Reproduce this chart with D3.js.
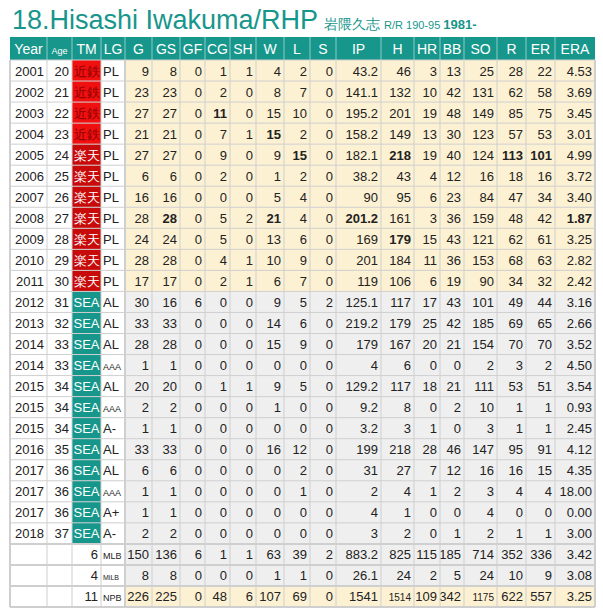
<!DOCTYPE html>
<html>
<head>
<meta charset="utf-8">
<script src="https://cdnjs.cloudflare.com/ajax/libs/d3/7.8.5/d3.min.js"></script>
<style>
body{margin:0;background:#fff;font-family:"Liberation Sans",Arial,sans-serif;}
</style>
</head>
<body>
<svg id="c" width="603" height="612"></svg>
<script>
// column headers
var columns = ["Year","Age","TM","LG","G","GS","GF","CG","SH","W","L","S","IP","H","HR","BB","SO","R","ER","ERA"];
var colEdges = [10,47,72,101,125,152,180,205,230,256,284,310,336,381,414,440,464,497,526,555,595];

// season rows
var years  = ["2001","2002","2003","2004","2005","2006","2007","2008","2009","2010","2011","2012","2013","2014","2014","2015","2015","2015","2016","2017","2017","2017","2018"];
var ages   = [20,21,22,23,24,25,26,27,28,29,30,31,32,33,33,34,34,34,35,36,36,36,37];
var teams  = ["近鉄","近鉄","近鉄","近鉄","楽天","楽天","楽天","楽天","楽天","楽天","楽天","SEA","SEA","SEA","SEA","SEA","SEA","SEA","SEA","SEA","SEA","SEA","SEA"];
var leagues= ["PL","PL","PL","PL","PL","PL","PL","PL","PL","PL","PL","AL","AL","AL","AAA","AL","AAA","A-","AL","AL","AAA","A+","A-"];
var stats = [
 ["9","8","0","1","1","4","2","0","43.2","46","3","13","25","28","22","4.53"],
 ["23","23","0","2","0","8","7","0","141.1","132","10","42","131","62","58","3.69"],
 ["27","27","0","11","0","15","10","0","195.2","201","19","48","149","85","75","3.45"],
 ["21","21","0","7","1","15","2","0","158.2","149","13","30","123","57","53","3.01"],
 ["27","27","0","9","0","9","15","0","182.1","218","19","40","124","113","101","4.99"],
 ["6","6","0","2","0","1","2","0","38.2","43","4","12","16","18","16","3.72"],
 ["16","16","0","0","0","5","4","0","90","95","6","23","84","47","34","3.40"],
 ["28","28","0","5","2","21","4","0","201.2","161","3","36","159","48","42","1.87"],
 ["24","24","0","5","0","13","6","0","169","179","15","43","121","62","61","3.25"],
 ["28","28","0","4","1","10","9","0","201","184","11","36","153","68","63","2.82"],
 ["17","17","0","2","1","6","7","0","119","106","6","19","90","34","32","2.42"],
 ["30","16","6","0","0","9","5","2","125.1","117","17","43","101","49","44","3.16"],
 ["33","33","0","0","0","14","6","0","219.2","179","25","42","185","69","65","2.66"],
 ["28","28","0","0","0","15","9","0","179","167","20","21","154","70","70","3.52"],
 ["1","1","0","0","0","0","0","0","4","6","0","0","2","3","2","4.50"],
 ["20","20","0","1","1","9","5","0","129.2","117","18","21","111","53","51","3.54"],
 ["2","2","0","0","0","1","0","0","9.2","8","0","2","10","1","1","0.93"],
 ["1","1","0","0","0","0","0","0","3.2","3","1","0","3","1","1","2.45"],
 ["33","33","0","0","0","16","12","0","199","218","28","46","147","95","91","4.12"],
 ["6","6","0","0","0","0","2","0","31","27","7","12","16","16","15","4.35"],
 ["1","1","0","0","0","0","1","0","2","4","1","2","3","4","4","18.00"],
 ["1","1","0","0","0","0","0","0","4","1","0","0","4","0","0","0.00"],
 ["2","2","0","0","0","0","0","0","3","2","0","1","2","1","1","3.00"]
];
// bold (league-leading) cells: [row, column name]
var boldCells = [[2,"CG"],[3,"W"],[4,"L"],[4,"H"],[4,"R"],[4,"ER"],[7,"GS"],[7,"W"],[7,"IP"],[7,"ERA"],[8,"H"]];

// career totals
var totalSeasons = [6,4,11];
var totalLeagues = ["MLB","MiLB","NPB"];
var totalStats = [
 ["150","136","6","1","1","63","39","2","883.2","825","115","185","714","352","336","3.42"],
 ["8","8","0","0","0","1","1","0","26.1","24","2","5","24","10","9","3.08"],
 ["226","225","0","48","6","107","69","0","1541","1514","109","342","1175","622","557","3.25"]
];

var svg = d3.select("#c");
var teal = "#17968c", cream = "#fdf1d3", grey = "#efefef", line = "#cfcfcf";
var teamFill = {"近鉄": "#f01010", "楽天": "#c80a0a", "SEA": teal};
var teamText = {"近鉄": "#8a0000", "楽天": "#fff", "SEA": "#fff"};
var nRows = years.length + totalStats.length;
var y = d3.scaleBand().domain(d3.range(nRows)).range([60, 607]);
var headTop = 37;

// title
var title = svg.append("text").attr("x", 12).attr("y", 29).attr("fill", teal);
title.append("tspan").attr("font-size", 27).text("18.Hisashi Iwakuma/RHP");
title.append("tspan").attr("font-size", 14).attr("dx", 6).text("岩隈久志 ");
title.append("tspan").attr("font-size", 11).text("R/R 190-95 ");
title.append("tspan").attr("font-size", 13).attr("font-weight", "bold").text("1981-");

// header
svg.append("rect").attr("x", colEdges[0]).attr("y", headTop).attr("width", colEdges[20]-colEdges[0]).attr("height", 23).attr("fill", teal);
columns.forEach(function(c, i) {
  svg.append("text").attr("x", (colEdges[i]+colEdges[i+1])/2).attr("y", headTop+17)
    .attr("text-anchor", "middle").attr("fill", "#fff")
    .attr("font-size", c === "Age" ? 9 : 14).text(c);
  if (i > 0) svg.append("line").attr("x1", colEdges[i]).attr("x2", colEdges[i]).attr("y1", headTop).attr("y2", 60).attr("stroke", "#fff").attr("stroke-opacity", 0.5);
});

function cellRight(i){ return colEdges[i+1]-3; }

function drawRow(r, cells, bg, tm, opts) {
  var top = y(r), h = y.bandwidth();
  svg.append("rect").attr("x", colEdges[4]).attr("y", top).attr("width", colEdges[20]-colEdges[4]).attr("height", h).attr("fill", bg);
  if (tm) svg.append("rect").attr("x", colEdges[2]).attr("y", top).attr("width", colEdges[3]-colEdges[2]).attr("height", h).attr("fill", teamFill[tm]);
  cells.forEach(function(v, i) {
    if (v === null) return;
    var t = svg.append("text").attr("y", top+h/2+5).attr("font-size", 13).attr("fill", "#222").text(v);
    if (i === 2 && !opts.total) {
      t.attr("x", (colEdges[2]+colEdges[3])/2).attr("text-anchor", "middle").attr("fill", teamText[tm]).attr("font-size", 13);
    } else if (i === 3) {
      t.attr("x", colEdges[3]+2);
      if (v.length > 2) t.attr("font-size", v === "MiLB" ? 7 : 9);
    } else {
      t.attr("x", cellRight(i)).attr("text-anchor", "end");
      if (v.length >= 4 && i >= 4 && i !== 12 && i !== 19) t.attr("font-size", 10);
    }
    if (opts.bold && opts.bold.indexOf(i) >= 0) t.attr("font-weight", "bold");
  });
}

years.forEach(function(yr, r) {
  var npb = teams[r] !== "SEA";
  var bold = boldCells.filter(function(b){ return b[0] === r; }).map(function(b){ return columns.indexOf(b[1]); });
  drawRow(r, [yr, String(ages[r]), teams[r], leagues[r]].concat(stats[r]),
    npb ? cream : grey, teams[r], {bold: bold});
});
totalStats.forEach(function(s, k) {
  var r = years.length + k;
  drawRow(r, [null, null, String(totalSeasons[k]), totalLeagues[k]].concat(s),
    totalLeagues[k] === "NPB" ? cream : grey, null, {total: true});
});

// grid lines
for (var i = 0; i <= nRows; i++) {
  var yy = i === nRows ? y.range()[1] : y(i);
  svg.append("line").attr("x1", colEdges[0]).attr("x2", colEdges[20]).attr("y1", yy).attr("y2", yy)
    .attr("stroke", line).attr("stroke-width", i >= years.length ? 2 : 1);
}
colEdges.forEach(function(x, i) {
  svg.append("line").attr("x1", x).attr("x2", x).attr("y1", 60).attr("y2", y.range()[1])
    .attr("stroke", line).attr("stroke-width", (i === 0 || i === 4 || i === 20) ? 2 : 1);
});
</script>
</body>
</html>
